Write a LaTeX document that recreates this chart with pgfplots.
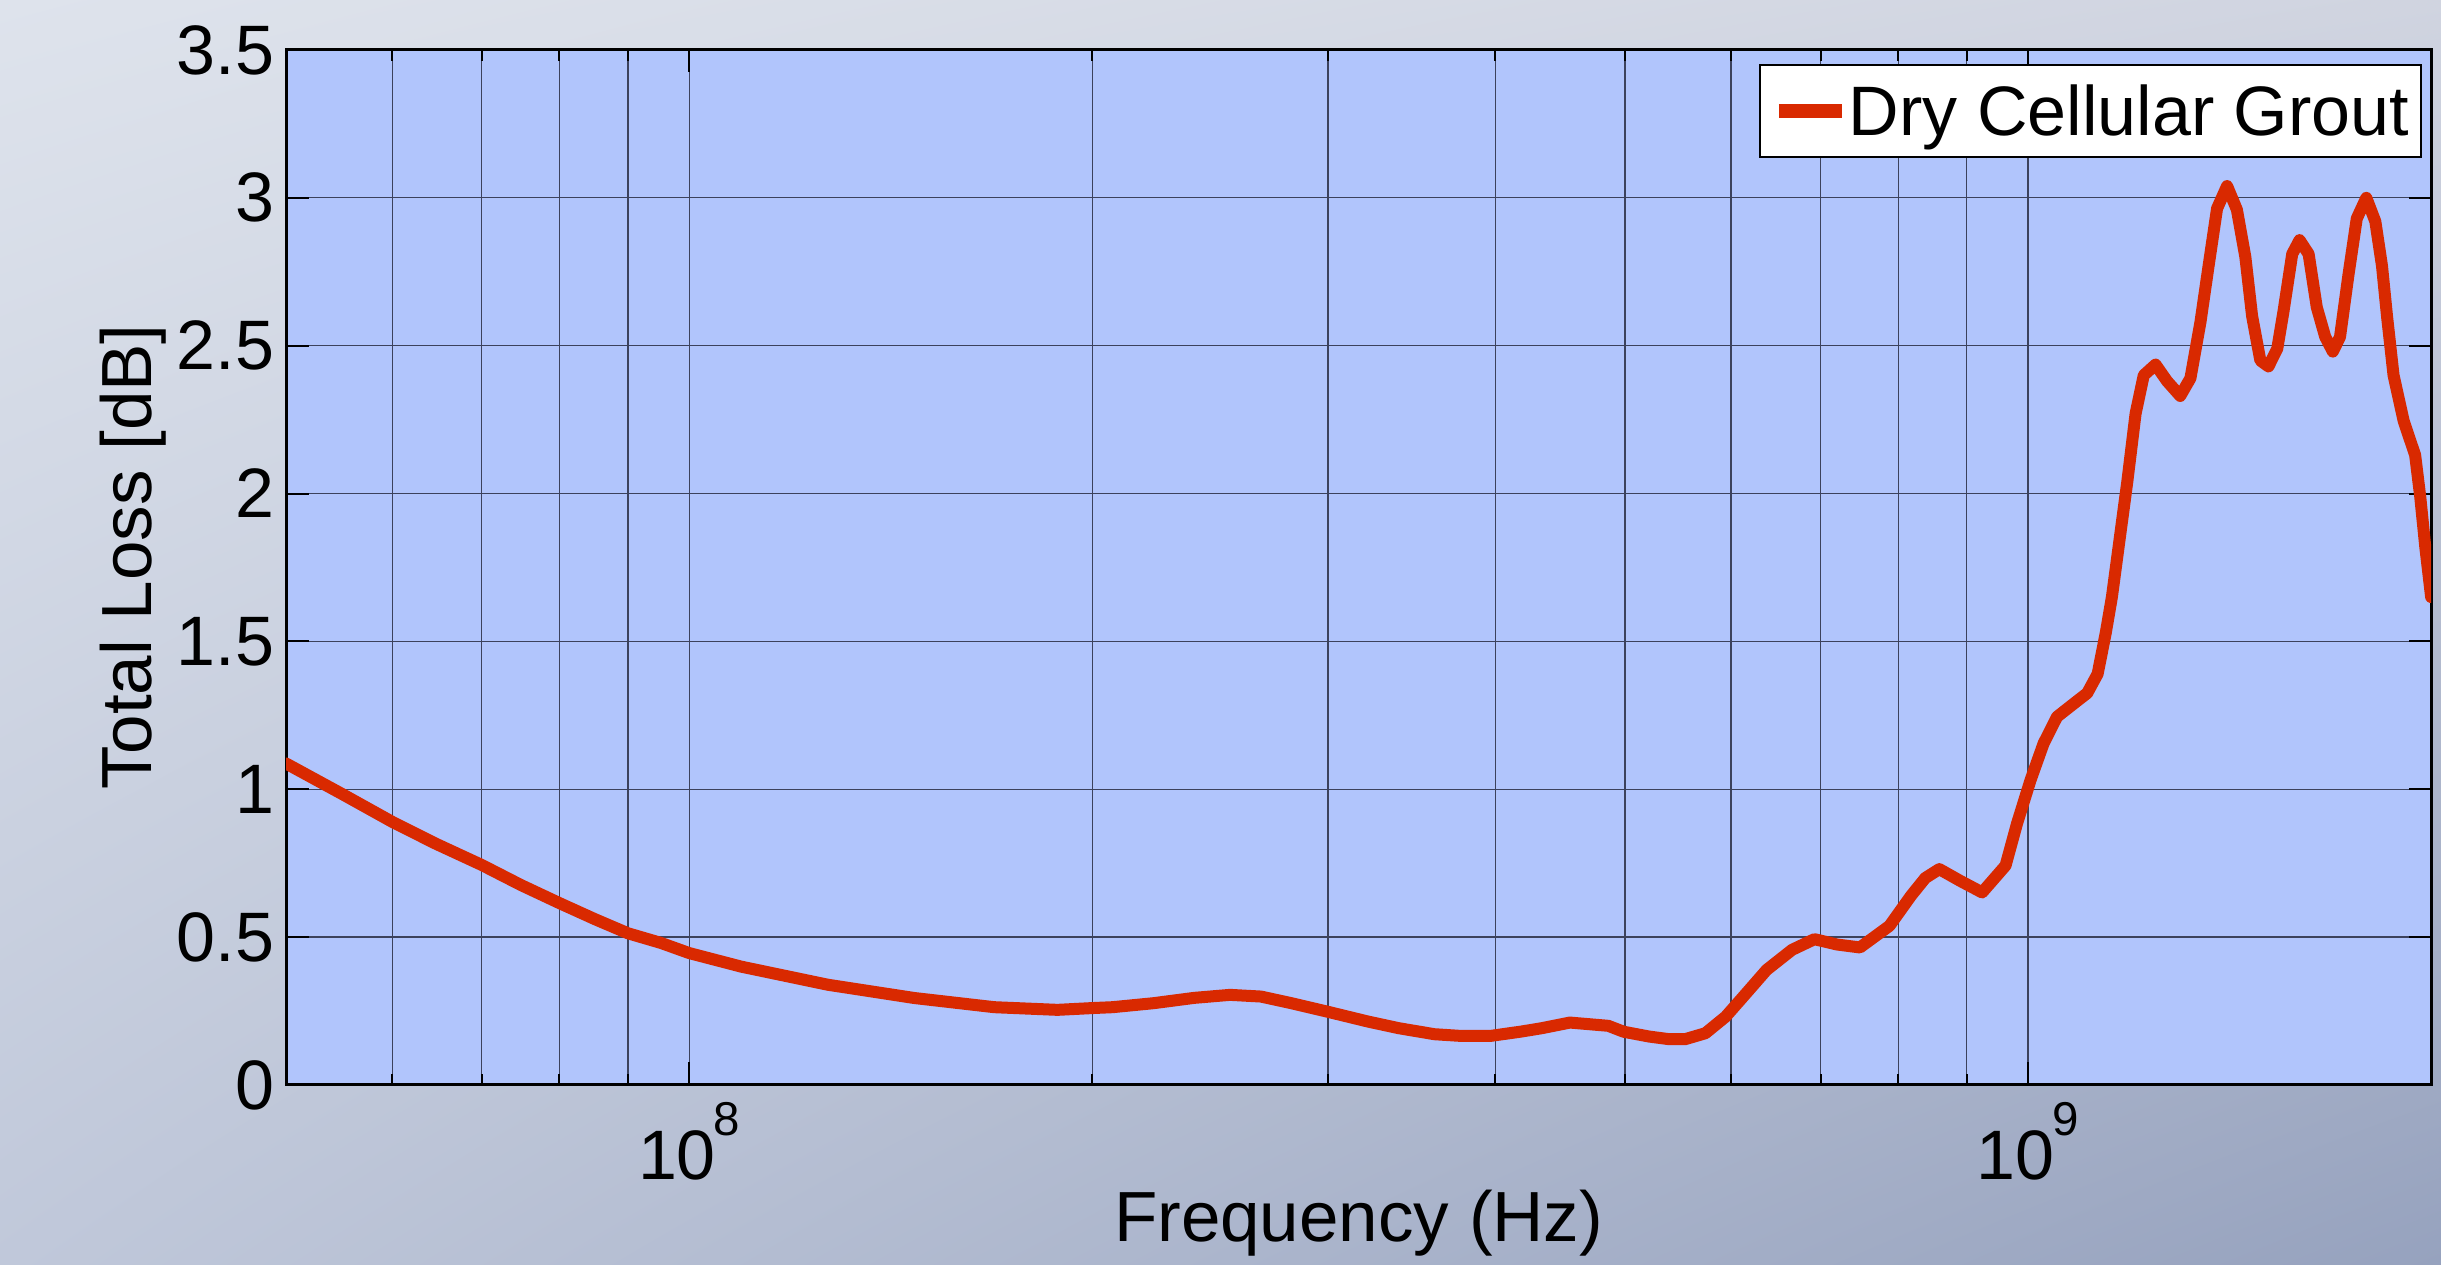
\documentclass[border=0pt]{standalone}
\usepackage{fontspec}
\setmainfont{Liberation Sans}
\usepackage{pgfplots}
\usepackage{pgfplotstable}
\usetikzlibrary{shadings}
\pgfplotsset{compat=1.18}
\definecolor{axbg}{RGB}{177,197,252}
\definecolor{curvec}{RGB}{217,41,0}
\definecolor{gridc}{RGB}{60,66,92}
\definecolor{bgul}{RGB}{222,227,236}
\definecolor{bgur}{RGB}{208,212,224}
\definecolor{bgll}{RGB}{192,200,218}
\definecolor{bglr}{RGB}{150,162,190}

\pgfplotstableread{
f v
5.00e7 1.087
5.50e7 0.985
6.00e7 0.89
6.46e7 0.817
7.00e7 0.744
7.49e7 0.676
8.00e7 0.615
8.50e7 0.561
9.00e7 0.513
9.53e7 0.48
1.00e8 0.446
1.094e8 0.40
1.269e8 0.339
1.473e8 0.294
1.69e8 0.263
1.884e8 0.254
2.00e8 0.260
2.071e8 0.263
2.222e8 0.2765
2.384e8 0.2946
2.535e8 0.3047
2.673e8 0.299
2.817e8 0.2765
2.996e8 0.248
3.214e8 0.2144
3.388e8 0.192
3.603e8 0.1716
3.766e8 0.166
3.97e8 0.166
4.183e8 0.1806
4.333e8 0.192
4.548e8 0.211
4.858e8 0.20
4.988e8 0.18
5.212e8 0.1637
5.398e8 0.1546
5.542e8 0.1546
5.741e8 0.175
5.945e8 0.231
6.158e8 0.31
6.378e8 0.389
6.664e8 0.457
6.925e8 0.493
7.2e8 0.475
7.49e8 0.465
7.88e8 0.538
8.176e8 0.64
8.38e8 0.70
8.584e8 0.73
8.9e8 0.69
9.24e8 0.651
9.62e8 0.742
9.81e8 0.883
1.004e9 1.03
1.027e9 1.155
1.051e9 1.245
1.082e9 1.29
1.107e9 1.325
1.127e9 1.39
1.143e9 1.53
1.155e9 1.65
1.186e9 2.04
1.203e9 2.27
1.22e9 2.40
1.245e9 2.436
1.27e9 2.38
1.299e9 2.33
1.322e9 2.39
1.345e9 2.58
1.364e9 2.77
1.384e9 2.964
1.408e9 3.04
1.432e9 2.96
1.453e9 2.80
1.47e9 2.60
1.491e9 2.45
1.512e9 2.43
1.535e9 2.49
1.552e9 2.62
1.575e9 2.81
1.595e9 2.857
1.62e9 2.81
1.643e9 2.63
1.667e9 2.53
1.689e9 2.48
1.71e9 2.53
1.735e9 2.74
1.76e9 2.93
1.789e9 3.00
1.817e9 2.92
1.838e9 2.77
1.854e9 2.60
1.875e9 2.40
1.908e9 2.245
1.946e9 2.13
1.963e9 1.99
1.98e9 1.82
2.0e9 1.65
}\lossdata

\begin{document}
\begin{tikzpicture}
\useasboundingbox (0,0) rectangle (488.2pt,253pt);
\shade[upper left=bgul, upper right=bgur, lower left=bgll, lower right=bglr] (0,0) rectangle (488.2pt,253pt);
\begin{axis}[
  at={(57.2pt,36pt)}, anchor=south west,
  scale only axis, width=429pt, height=207pt,
  xmode=log, log basis x=10,
  xmin=5e7, xmax=2e9, ymin=0, ymax=3.5,
  axis background/.style={fill=axbg},
  xtick={1e8,1e9},
  xticklabels={10\kern-0.4pt\raisebox{8.7pt}{\fontsize{9.5}{9.5}\selectfont 8},10\kern-0.4pt\raisebox{8.7pt}{\fontsize{9.5}{9.5}\selectfont 9}},
  minor xtick={6e7,7e7,8e7,9e7,2e8,3e8,4e8,5e8,6e8,7e8,8e8,9e8},
  ytick={0,0.5,1,1.5,2,2.5,3,3.5},
  yticklabels={0,0.5,1,1.5,2,2.5,3,3.5},
  xmajorgrids, xminorgrids, ymajorgrids,
  grid style={gridc, line width=0.25pt},
  tick align=inside, major tick length=4.5pt, minor tick length=2.2pt,
  tick style={black, line width=0.4pt},
  axis line style={black, line width=0.6pt},
  ticklabel style={font=\fontsize{14}{16}\selectfont},
  xticklabel style={inner sep=0pt, anchor=north, yshift=-3.3pt},
  yticklabel style={inner sep=0pt, anchor=east, xshift=-2.2pt},
  xlabel={Frequency (Hz)},
  ylabel={Total Loss [dB]},
  every axis x label/.style={at={(axis description cs:0.5,-0.1512)}, anchor=base, font=\fontsize{14.2}{16}\selectfont},
  every axis y label/.style={at={(axis description cs:-0.0627,0.51)}, rotate=90, anchor=base, font=\fontsize{14.2}{16}\selectfont},
  legend style={at={(1,1)}, anchor=north east, xshift=-1.8pt, yshift=-2.8pt,
    draw=black, fill=white, line width=0.4pt,
    font=\fontsize{14}{16}\selectfont,
    inner xsep=2.4pt, inner ysep=1.2pt,
    nodes={inner sep=0pt, text height=13pt, text depth=3pt}},
  legend image code/.code={\draw[line width=2.8pt, line cap=butt, curvec] (0pt,0pt) -- (12.6pt,0pt);},
]
\addplot[curvec, line width=2.4pt, line join=round, line cap=round] table[x=f, y=v] {\lossdata};
\addlegendentry{Dry Cellular Grout}
\end{axis}
\end{tikzpicture}
\end{document}
